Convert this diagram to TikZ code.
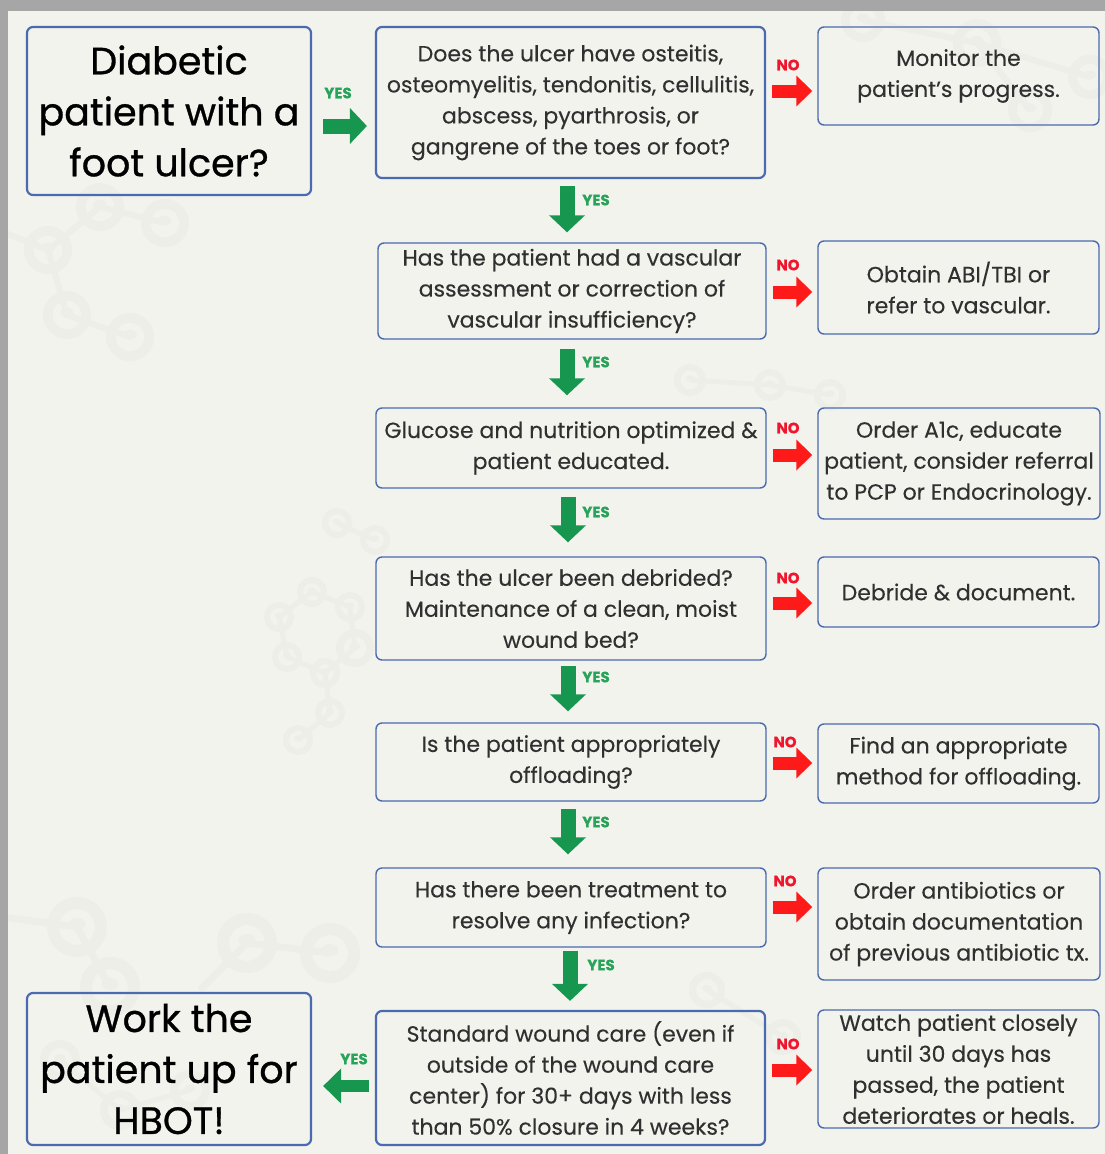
\documentclass[tikz,border=0pt]{standalone}
\usepackage{fontspec}
\setmainfont{Poppins}
\newfontfamily\bigfont{Poppins}[FakeBold=0.8]
\newfontfamily\bodyfont{Poppins}[FakeBold=0.25]
\newfontfamily\labfont{Poppins}[FakeBold=0.6]
\usetikzlibrary{arrows.meta}
\definecolor{bgc}{HTML}{F3F3EE}
\definecolor{framegray}{HTML}{A6A6A6}
\definecolor{boxblue}{HTML}{4A6BB0}
\definecolor{txt}{HTML}{303030}
\definecolor{agreen}{HTML}{16964F}
\definecolor{lgreen}{HTML}{27A35A}
\definecolor{ared}{HTML}{FF1A1A}
\definecolor{lred}{HTML}{F0142C}
\definecolor{molc}{HTML}{EEEEE9}
\newcommand{\mring}[3]{\draw[molc, line width=#3*0.4pt] (#1,#2) circle (#3*0.8); \fill[molc] (#1,#2-#3*0.1) ellipse ({#3*0.28} and {#3*0.2});}
\begin{document}
\begin{tikzpicture}[x=1pt,y=-1pt,
  box/.style={draw=boxblue, line width=1.4pt, rounded corners=6pt, align=center,
    text=txt, inner sep=0pt, font=\bodyfont\fontsize{22}{31}\selectfont},
  bigbox/.style={box, line width=2.2pt, text=black, font=\bigfont\fontsize{38}{51}\selectfont},
  thickbox/.style={box, line width=2.2pt},
  garrow/.style={draw=agreen, line width=15pt, -{Triangle[length=17pt,width=35pt]}},
  rarrow/.style={draw=ared, line width=13pt, -{Triangle[length=16pt,width=30pt]}},
  ylab/.style={text=lgreen, font=\labfont\fontsize{15}{15}\selectfont\bfseries, inner sep=0pt},
  nlab/.style={text=lred, font=\labfont\fontsize{15}{15}\selectfont\bfseries, inner sep=0pt},
  mol/.style={draw=molc, line width=6pt}
]
\useasboundingbox (0,0) rectangle (1105,1154);
\fill[bgc] (0,0) rectangle (1105,1154);

% faint molecule decorations
\draw[mol] (5,233) -- (48,250) -- (100,207) -- (165,223);
\draw[mol] (48,250) -- (67,315) -- (130,337);
\mring{48}{250}{24}\mring{100}{207}{24}\mring{165}{223}{24}\mring{67}{315}{24}\mring{130}{337}{24}
\draw[mol, line width=5pt] (337,523) -- (375,540);
\draw[mol, line width=5pt] (312,592) -- (279,617) -- (287,657) -- (325,673) -- (355,648) -- (350,607) -- (312,592);
\draw[mol, line width=5pt] (325,673) -- (330,713) -- (298,740);
\mring{337}{523}{15}\mring{375}{540}{15}\mring{312}{592}{15}\mring{279}{617}{15}\mring{350}{607}{15}
\mring{355}{648}{19}\mring{287}{657}{15}\mring{325}{673}{15}\mring{330}{713}{15}\mring{298}{740}{15}
\draw[mol, line width=7pt] (3,917) -- (77,927) -- (110,987);
\draw[mol, line width=7pt] (247,943) -- (330,953);
\draw[mol, line width=7pt] (247,943) -- (200,990);
\mring{77}{927}{30}\mring{247}{943}{30}\mring{330}{953}{30}\mring{110}{987}{30}
\draw[mol] (863,20) -- (977,43) -- (1030,110);
\draw[mol] (977,43) -- (1090,77);
\mring{863}{20}{22}\mring{977}{43}{24}\mring{1030}{110}{22}\mring{1090}{77}{22}
\draw[mol, line width=5pt] (690,380) -- (770,385) -- (830,395);
\mring{690}{380}{16}\mring{770}{385}{16}\mring{830}{395}{16}
\draw[mol, line width=5pt] (707,990) -- (783,1037);
\mring{707}{990}{18}\mring{783}{1037}{18}
\draw[mol, line width=5pt] (60,1060) -- (120,1110) -- (190,1090);
\mring{60}{1060}{20}\mring{120}{1110}{20}\mring{190}{1090}{20}

\fill[framegray] (0,0) rectangle (1105,11);
\fill[framegray] (0,0) rectangle (8,1154);

% main column
\node[bigbox, minimum width=284pt, minimum height=168pt] (start) at (169,111)
  {\raisebox{-2pt}{\parbox{270pt}{\centering Diabetic\\patient with a\\foot ulcer?}}};
\node[thickbox, minimum width=389pt, minimum height=151pt] (q1) at (570.5,102.5)
  {Does the ulcer have osteitis,\\osteomyelitis, tendonitis, cellulitis,\\abscess, pyarthrosis, or\\gangrene of the toes or foot?};
\node[box, minimum width=388pt, minimum height=96pt] (q2) at (572,291)
  {Has the patient had a vascular\\assessment or correction of\\vascular insufficiency?};
\node[box, minimum width=390pt, minimum height=80pt] (q3) at (571,448)
  {Glucose and nutrition optimized \&\\patient educated.};
\node[box, minimum width=390pt, minimum height=103pt] (q4) at (571,608.5)
  {Has the ulcer been debrided?\\Maintenance of a clean, moist\\wound bed?};
\node[box, minimum width=390pt, minimum height=78pt] (q5) at (571,762)
  {Is the patient appropriately\\offloading?};
\node[box, minimum width=390pt, minimum height=79pt] (q6) at (571,907.5)
  {Has there been treatment to\\resolve any infection?};
\node[thickbox, minimum width=389pt, minimum height=134pt] (q7) at (570.5,1078)
  {Standard wound care (even if\\outside of the wound care\\center) for 30+ days with less\\than 50\% closure in 4 weeks?};
\node[bigbox, minimum width=284pt, minimum height=152pt] (hbot) at (169,1069)
  {Work the\\patient up for\\HBOT!};

% right column
\node[box, minimum width=281pt, minimum height=98pt] (n1) at (958.5,76)
  {Monitor the\\patient’s progress.};
\node[box, minimum width=281pt, minimum height=93pt] (n2) at (958.5,287.5)
  {Obtain ABI/TBI or\\refer to vascular.};
\node[box, minimum width=282pt, minimum height=111pt] (n3) at (959,463.5)
  {Order A1c, educate\\patient, consider referral\\to PCP or Endocrinology.};
\node[box, minimum width=281pt, minimum height=70pt] (n4) at (958.5,592)
  {Debride \& document.};
\node[box, minimum width=281pt, minimum height=79pt] (n5) at (958.5,763.5)
  {Find an appropriate\\method for offloading.};
\node[box, minimum width=282pt, minimum height=112pt] (n6) at (959,924)
  {Order antibiotics or\\obtain documentation\\of previous antibiotic tx.};
\node[box, minimum width=281pt, minimum height=118pt] (n7) at (958.5,1069)
  {Watch patient closely\\until 30 days has\\passed, the patient\\deteriorates or heals.};

% YES arrows
\draw[garrow, shorten <=11pt, shorten >=8pt] (start.east |- 0,126) -- (q1.west |- 0,126);
\draw[garrow, shorten <=7pt, shorten >=10pt] (q1.south -| 567,0) -- (q2.north -| 567,0);
\draw[garrow, shorten <=9pt, shorten >=12pt] (q2.south -| 567,0) -- (q3.north -| 567,0);
\draw[garrow, shorten <=8pt, shorten >=14pt] (q3.south -| 568,0) -- (q4.north -| 568,0);
\draw[garrow, shorten <=5pt, shorten >=11pt] (q4.south -| 568,0) -- (q5.north -| 568,0);
\draw[garrow, shorten <=7pt, shorten >=13pt] (q5.south -| 568,0) -- (q6.north -| 568,0);
\draw[garrow, shorten <=3pt, shorten >=9pt] (q6.south -| 570,0) -- (q7.north -| 570,0);
\draw[garrow, line width=12pt, -{Triangle[length=18pt,width=34pt]}, shorten <=6pt, shorten >=11pt] (q7.west |- 0,1086) -- (hbot.east |- 0,1086);

% NO arrows
\draw[rarrow, shorten <=6pt, shorten >=5pt] (q1.east |- 0,91) -- (n1.west |- 0,91);
\draw[rarrow, shorten <=6pt, shorten >=5pt] (q2.east |- 0,292) -- (n2.west |- 0,292);
\draw[rarrow, shorten <=6pt, shorten >=5pt] (q3.east |- 0,455) -- (n3.west |- 0,455);
\draw[rarrow, shorten <=6pt, shorten >=5pt] (q4.east |- 0,603) -- (n4.west |- 0,603);
\draw[rarrow, shorten <=6pt, shorten >=5pt] (q5.east |- 0,763) -- (n5.west |- 0,763);
\draw[rarrow, shorten <=6pt, shorten >=5pt] (q6.east |- 0,907) -- (n6.west |- 0,907);
\draw[rarrow, shorten <=6pt, shorten >=5pt] (q7.east |- 0,1070) -- (n7.west |- 0,1070);

% labels
\node[ylab] (y0) at (338,93) {YES};
\node[ylab] (y1) at (596,200) {YES};
\node[ylab] (y2) at (596,362) {YES};
\node[ylab] (y3) at (596,512) {YES};
\node[ylab] (y4) at (596,677) {YES};
\node[ylab] (y5) at (596,822) {YES};
\node[ylab] (y6) at (601,965) {YES};
\node[ylab] (y7) at (354,1059) {YES};
\node[nlab] (no1) at (788,65) {NO};
\node[nlab] (no2) at (788,265) {NO};
\node[nlab] (no3) at (788,428) {NO};
\node[nlab] (no4) at (788,578) {NO};
\node[nlab] (no5) at (785,742) {NO};
\node[nlab] (no6) at (785,881) {NO};
\node[nlab] (no7) at (788,1044) {NO};
\end{tikzpicture}
\end{document}
